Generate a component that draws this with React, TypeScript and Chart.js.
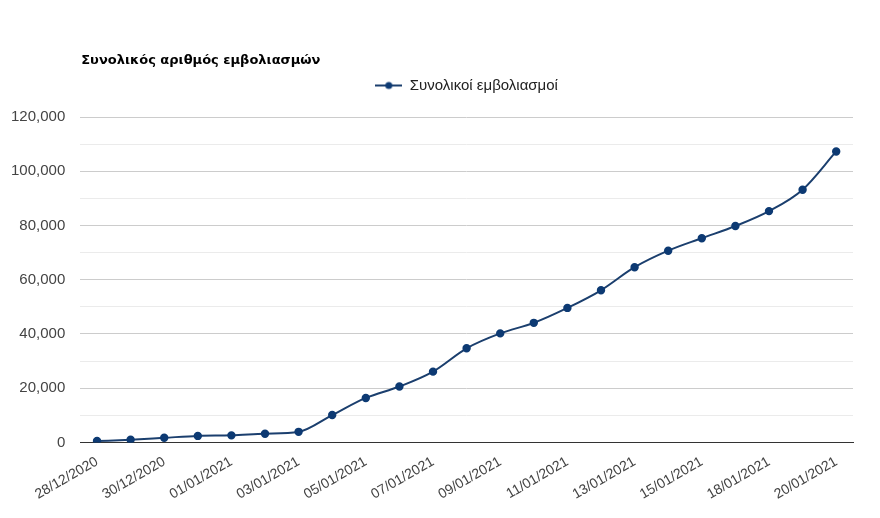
import { useEffect, useRef } from 'react';
import { Chart, registerables } from 'chart.js';

Chart.register(...registerables);

const DATES = [
  '28/12/2020', '29/12/2020', '30/12/2020', '31/12/2020',
  '01/01/2021', '02/01/2021', '03/01/2021', '04/01/2021', '05/01/2021',
  '06/01/2021', '07/01/2021', '08/01/2021', '09/01/2021', '10/01/2021',
  '11/01/2021', '12/01/2021', '13/01/2021', '14/01/2021', '15/01/2021',
  '16/01/2021', '18/01/2021', '19/01/2021', '20/01/2021',
];

const TOTAL_VACCINATIONS = [
  500, 1000, 1700, 2400, 2600, 3200, 3900, 10100, 16400, 20600, 26100, 34700,
  40200, 44100, 49600, 56100, 64600, 70700, 75300, 79800, 85300, 93200, 107300,
];

const Y_MAX = 120000;
const Y_STEP = 10000;

const TITLE = 'Συνολικός αριθμός εμβολιασμών';
const SERIES_LABEL = 'Συνολικοί εμβολιασμοί';

const FONT = 'Arial, "Liberation Sans", sans-serif';
const TITLE_FONT = '"DejaVu Sans", Verdana, sans-serif';
const LINE_COLOR = '#1b3f6e';
const POINT_COLOR = '#0d3a73';

// legend marker: short line with a dot, like the original
function legendMarker() {
  const c = document.createElement('canvas');
  c.width = 27;
  c.height = 10;
  const g = c.getContext('2d')!;
  g.strokeStyle = LINE_COLOR;
  g.lineWidth = 2;
  g.beginPath();
  g.moveTo(0, 5);
  g.lineTo(27, 5);
  g.stroke();
  g.fillStyle = POINT_COLOR;
  g.beginPath();
  g.arc(13.5, 5, 3.5, 0, Math.PI * 2);
  g.fill();
  return c;
}

const titlePlugin = {
  id: 'leftTitle',
  beforeInit(chart: any) {
    // extra room under the legend
    const fit = chart.legend.fit;
    chart.legend.fit = function () {
      fit.call(this);
      this.height += 14;
    };
  },
  afterLayout(chart: any) {
    // center the legend over the plot area, not the whole canvas
    const lg = chart.legend;
    if (lg) {
      lg.left = chart.chartArea.left;
      lg.right = chart.chartArea.right;
    }
  },
  afterDraw(chart: Chart) {
    const { ctx, chartArea } = chart;
    ctx.save();
    ctx.font = `bold 13px ${TITLE_FONT}`;
    ctx.fillStyle = '#000';
    ctx.textBaseline = 'middle';
    ctx.textAlign = 'left';
    ctx.fillText(TITLE, chartArea.left + 1, 61);
    ctx.restore();
  },
};

export default function App() {
  const canvasRef = useRef<HTMLCanvasElement>(null);

  useEffect(() => {
    if (!canvasRef.current) return;
    const marker = legendMarker();

    const chart = new Chart(canvasRef.current, {
      type: 'line',
      data: {
        labels: DATES,
        datasets: [{
          label: SERIES_LABEL,
          data: TOTAL_VACCINATIONS,
          borderColor: LINE_COLOR,
          backgroundColor: POINT_COLOR,
          pointBackgroundColor: POINT_COLOR,
          pointBorderColor: POINT_COLOR,
          pointRadius: 3.2,
          borderWidth: 2,
          tension: 0.4,
          cubicInterpolationMode: 'monotone',
          fill: false,
        }],
      },
      options: {
        responsive: true,
        maintainAspectRatio: false,
        animation: false,
        layout: { padding: { top: 68, right: 27, bottom: 12, left: -4 } },
        plugins: {
          title: { display: false },
          tooltip: { enabled: false },
          legend: {
            display: true,
            position: 'top',
            labels: {
              color: '#222',
              font: { family: FONT, size: 15 },
              usePointStyle: true,
              pointStyleWidth: 27,
              padding: 10,
              generateLabels: (ch) => Chart.defaults.plugins.legend.labels.generateLabels(ch).map(l => ({
                ...l,
                pointStyle: marker,
              })),
            },
          },
        },
        scales: {
          x: {
            offset: true,
            grid: { display: false },
            border: { display: true, color: '#333', width: 1 },
            afterFit: (scale: any) => {
              // first slanted label has room on its own; don't push the plot right
              scale.paddingLeft = 0;
            },
            ticks: {
              autoSkip: false,
              minRotation: 30,
              maxRotation: 30,
              color: '#444',
              font: { family: FONT, size: 14 },
              callback: (_v, i) => (i % 2 === 0 ? DATES[i] : ''),
            },
          },
          y: {
            min: 0,
            max: Y_MAX,
            border: { display: false },
            grid: {
              drawTicks: false,
              color: (c) => {
                const v = c.tick?.value ?? 0;
                if (v === 0) return 'rgba(0,0,0,0)';
                return v % 20000 === 0 ? '#cccccc' : '#ebebeb';
              },
            },
            ticks: {
              stepSize: Y_STEP,
              padding: 15,
              color: '#444',
              font: { family: FONT, size: 15 },
              callback: (v) => (Number(v) % 20000 === 0 ? Number(v).toLocaleString('en-US') : ''),
            },
          },
        },
      },
      plugins: [titlePlugin],
    });

    return () => chart.destroy();
  }, []);

  return (
    <div style={{ position: 'fixed', left: 0, top: 0, width: 880, height: 518, background: '#fff' }}>
      <canvas ref={canvasRef} />
    </div>
  );
}
